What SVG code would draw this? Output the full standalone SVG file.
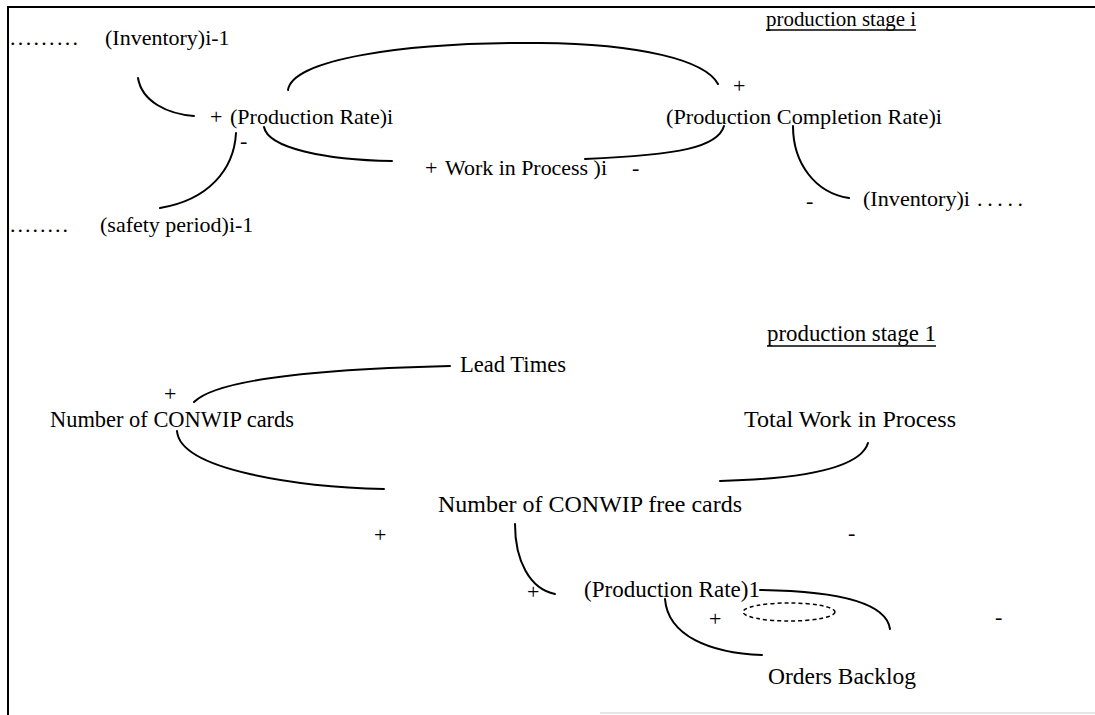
<svg xmlns="http://www.w3.org/2000/svg" width="1095" height="715" viewBox="0 0 1095 715">
<style>
text{font-family:"Liberation Serif","Times New Roman",serif;font-size:22px;fill:#000}
.b{font-size:23px}
.c{fill:none;stroke:#000;stroke-width:2;stroke-linecap:round}
.u{stroke:#000;stroke-width:1.3}
</style>
<rect width="1095" height="715" fill="#fff"/>
<g id="frame">
<line x1="7" y1="7" x2="1095" y2="7" stroke="#000" stroke-width="2"/>
<line x1="8" y1="6" x2="8" y2="715" stroke="#000" stroke-width="2"/>
<line x1="600" y1="713" x2="1095" y2="713" stroke="#ccc" stroke-width="1"/>
</g>
<g id="connectors">
<path class="c" d="M138,78 C142,102 168,114 194,116"/>
<path class="c" d="M288,90 C292,60 400,42 540,43 C640,44 705,60 718,84"/>
<path class="c" d="M264,127 C268,148 325,160 392,161"/>
<path class="c" d="M236,133 C234,170 208,200 160,208"/>
<path class="c" d="M724,126 C718,147 680,155 585,159"/>
<path class="c" d="M793,126 C793,163 815,193 849,198"/>
<path class="c" d="M450,366 C322,369 217,379 194,402"/>
<path class="c" d="M177,431 C180,471 302,487 384,489"/>
<path class="c" d="M868,443 C860,469 800,479 720,481"/>
<path class="c" d="M515,524 C515,561 530,589 555,594"/>
<path class="c" d="M760,590 C832,591 886,601 890,629"/>
<path class="c" d="M665,599 C668,636 710,653 762,655"/>
<ellipse cx="789" cy="612" rx="46" ry="9" fill="none" stroke="#000" stroke-width="1.5" stroke-dasharray="4 3"/>
</g>
<g id="stage-i-label"><text x="766" y="26" textLength="150" lengthAdjust="spacingAndGlyphs">production stage i</text><line class="u" x1="766" y1="30" x2="916" y2="30"/></g>
<g id="inventory-prev"><text x="10" y="45" textLength="68">.........</text><text x="105" y="45">(Inventory)i-1</text></g>
<g id="production-rate-i"><text x="210" y="124">+</text><text x="230" y="124">(Production Rate)i</text><text x="240" y="148">-</text></g>
<g id="completion-rate"><text x="733" y="93">+</text><text x="666" y="124" textLength="276" lengthAdjust="spacingAndGlyphs">(Production Completion Rate)i</text></g>
<g id="wip-i"><text x="425" y="175">+</text><text x="445" y="175" textLength="162" lengthAdjust="spacingAndGlyphs">Work in Process )i</text><text x="632" y="175">-</text></g>
<g id="inventory-i"><text x="806" y="208">-</text><text x="863" y="206" textLength="107" lengthAdjust="spacingAndGlyphs">(Inventory)i</text><text x="977" y="206" textLength="46">.....</text></g>
<g id="safety-period"><text x="10" y="232" textLength="58">........</text><text x="100" y="232">(safety period)i-1</text></g>
<g id="stage-1-label"><text class="b" x="767" y="341" textLength="169" lengthAdjust="spacingAndGlyphs">production stage 1</text><line class="u" x1="767" y1="346" x2="936" y2="346"/></g>
<g id="lead-times"><text class="b" x="460" y="372" textLength="106" lengthAdjust="spacingAndGlyphs">Lead Times</text></g>
<g id="conwip-cards"><text x="164" y="401">+</text><text class="b" x="50" y="427" textLength="244" lengthAdjust="spacingAndGlyphs">Number of CONWIP cards</text></g>
<g id="total-wip"><text class="b" x="744" y="427" textLength="212" lengthAdjust="spacingAndGlyphs">Total Work in Process</text></g>
<g id="free-cards"><text class="b" x="438" y="512" textLength="304" lengthAdjust="spacingAndGlyphs">Number of CONWIP free cards</text><text x="374" y="542">+</text><text x="848" y="540">-</text></g>
<g id="production-rate-1"><text x="527" y="599">+</text><text class="b" x="584" y="597" textLength="176" lengthAdjust="spacingAndGlyphs">(Production Rate)1</text><text x="709" y="626">+</text><text x="995" y="624">-</text></g>
<g id="orders-backlog"><text class="b" x="768" y="684" textLength="148" lengthAdjust="spacingAndGlyphs">Orders Backlog</text></g>
</svg>
